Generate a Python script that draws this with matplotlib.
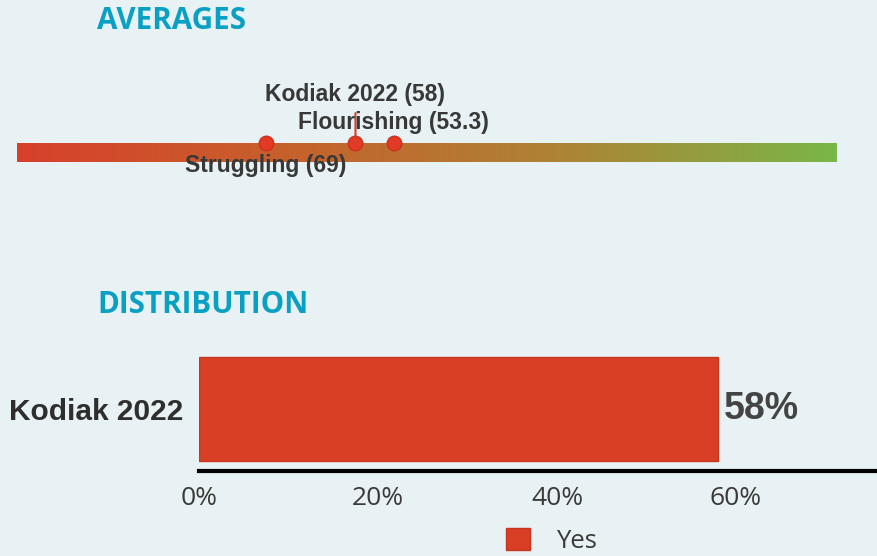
import numpy as np
import matplotlib
matplotlib.use('Agg')
import matplotlib.pyplot as plt
from matplotlib.colors import LinearSegmentedColormap
from matplotlib.patches import Patch

# Average scores shown on the gradient scale
avg_names = ['Struggling', 'Kodiak 2022', 'Flourishing']
avg_values = [69, 58, 53.3]

# Share of "Yes" answers per group
dist_groups = ['Kodiak 2022']
dist_values = [58]
dist_series = 'Yes'

pct_ticks = [0, 20, 40, 60]

bg = '#e8f1f3'
title_color = '#0aa0c4'
text_dark = '#383838'
bar_red = '#d83f25'

fig = plt.figure(figsize=(8.78, 5.56), dpi=100, facecolor=bg)
W, H = 878, 556

def px_axes(x0, y_top, x1, y_bottom):
    return fig.add_axes([x0 / W, 1 - y_bottom / H, (x1 - x0) / W, (y_bottom - y_top) / H])

# --- section titles ---
fig.text(97 / W, 1 - 29 / H, 'AVERAGES', family='Open Sans', weight='bold',
         fontsize=21.3, color=title_color, va='baseline')
fig.text(97 / W, 1 - 313 / H, 'DISTRIBUTION', family='Open Sans', weight='bold',
         fontsize=21.3, color=title_color, va='baseline')

# --- averages: reversed scale, red (high) to green (low) ---
ax1 = px_axes(17, 60, 837, 200)
ax1.set_facecolor('none')
x_hi, x_lo = 99.4, -0.9
ax1.set_xlim(x_hi, x_lo)
ax1.set_ylim(0, 1)
cmap = LinearSegmentedColormap.from_list('rg', ['#d8402b', '#c6612c', '#ad8436', '#7ab648'])
grad = np.linspace(0, 1, 256).reshape(1, -1)
ax1.imshow(grad, cmap=cmap, aspect='auto', extent=[x_hi, x_lo, 0.27, 0.40], zorder=1)
ax1.axis('off')

point_y = 0.41
offsets = {'Struggling': -23, 'Kodiak 2022': 48, 'Flourishing': 20}
label_font = dict(family='Liberation Sans', weight='bold', fontsize=16.5, color=text_dark)
for name, val in zip(avg_names, avg_values):
    ax1.scatter([val], [point_y], s=110, color='#e23a25', edgecolor='#c9331f',
                linewidth=1, zorder=3)
    label = f'{name} ({val:g})'
    if name == 'Kodiak 2022':
        ax1.annotate(label, (val, point_y), xytext=(0, offsets[name]),
                     textcoords='offset pixels', ha='center', va='center',
                     zorder=4, **label_font,
                     arrowprops=dict(arrowstyle='-', color='#d8402b', lw=1.5,
                                     shrinkA=-3, shrinkB=0))
    else:
        ax1.annotate(label, (val, point_y), xytext=(0, offsets[name]),
                     textcoords='offset pixels', ha='center', va='center',
                     zorder=4, **label_font)

# --- distribution bar ---
ax2 = px_axes(199, 347, 878, 471)
ax2.set_facecolor('none')
ax2.barh([0.5], dist_values, height=0.84, color=bar_red, edgecolor='#c7371f',
         linewidth=1, label=dist_series)
ax2.set_ylim(0, 1)
ax2.set_xlim(0, 679 / 8.95)
for v in dist_values:
    ax2.annotate(f'{v}%', (v, 0.5), xytext=(6, 0), textcoords='offset pixels',
                 ha='left', va='center', family='Liberation Sans', weight='bold',
                 fontsize=27, color='#444444')

ax2.set_yticks([0.5])
ax2.set_yticklabels(dist_groups, family='Liberation Sans', weight='bold',
                    fontsize=21.5, color='#2e2e2e')
ax2.set_xticks(pct_ticks)
ax2.set_xticklabels([f'{t}%' for t in pct_ticks], family='Open Sans',
                    fontsize=19, color='#3a3a3a')
ax2.tick_params(axis='both', length=0)
ax2.tick_params(axis='x', pad=11)
ax2.tick_params(axis='y', pad=11)
for s in ['top', 'right', 'left']:
    ax2.spines[s].set_visible(False)
ax2.spines['bottom'].set_linewidth(3)
ax2.spines['bottom'].set_color('black')

handles = [Patch(facecolor=bar_red, edgecolor='#c7371f', label=dist_series)]
fig.legend(handles=handles, loc='center', bbox_to_anchor=(551 / W, 1 - 541 / H),
           frameon=False, handlelength=0.95, handleheight=0.95, handletextpad=1.0,
           prop={'family': 'Open Sans', 'size': 18.5})
for t in fig.legends[0].get_texts():
    t.set_color('#3a3a3a')

fig.savefig('out.png', dpi=100, facecolor=bg)
